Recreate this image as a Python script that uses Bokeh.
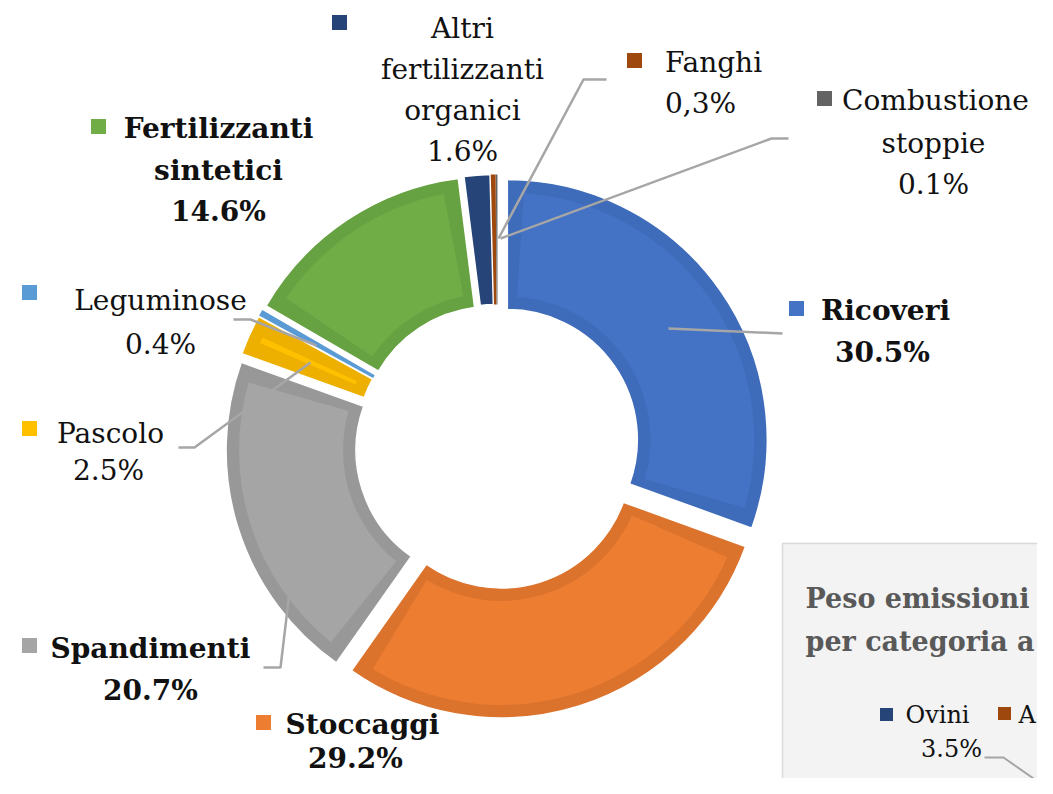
import math
from bokeh.plotting import figure
from bokeh.models import Range1d, ColumnDataSource
from bokeh.core.properties import value
from bokeh.embed import file_html
from bokeh.resources import INLINE

# ---------------- data ----------------
categories = ["Ricoveri", "Stoccaggi", "Spandimenti", "Pascolo", "Leguminose",
              "Fertilizzanti sintetici", "Altri fertilizzanti organici", "Fanghi",
              "Combustione stoppie"]
shares = [30.5, 29.2, 20.7, 2.5, 0.4, 14.6, 1.6, 0.3, 0.1]
share_labels = ["30.5%", "29.2%", "20.7%", "2.5%", "0.4%", "14.6%", "1.6%", "0,3%", "0.1%"]
label_lines = [["Ricoveri"], ["Stoccaggi"], ["Spandimenti"], ["Pascolo"], ["Leguminose"],
               ["Fertilizzanti", "sintetici"], ["Altri", "fertilizzanti", "organici"],
               ["Fanghi"], ["Combustione", "stoppie"]]
bold_labels = [True, True, True, False, False, True, False, False, False]

inset_title = ["Peso emissioni", "per categoria a"]
inset_categories = ["Ovini", "A"]
inset_share_labels = ["3.5%"]

# ---------------- style / layout ----------------
colors = ["#4472C4", "#ED7D31", "#A5A5A5", "#FFC000", "#5B9BD5", "#70AD47",
          "#264478", "#9E480E", "#636363"]
band_colors = ["#3E6BBA", "#DB732D", "#989898", "#EDB000", "#5B9BD5", "#67A242",
               "#264478", "#9E480E", "#636363"]
inset_colors = ["#264478", "#9E480E"]

CX, CY = 497, 446          # donut centre (picture px)
R_OUT, R_IN = 260, 130
EXPLODE = 12
BAND = 13
FONT = "DejaVu Serif"
FS = "28px"

# label positions (picture px): x per line, y per line, marker centre
label_pos = [
    dict(x=[885, 882], y=[310, 352], m=(796, 308)),
    dict(x=[362, 355], y=[724, 758], m=(263, 722)),
    dict(x=[150, 150], y=[648, 690], m=(29, 645)),
    dict(x=[110, 108], y=[433, 470], m=(29, 428)),
    dict(x=[160, 160], y=[300, 344], m=(29, 292)),
    dict(x=[218, 218, 218], y=[128, 170, 211], m=(98, 126)),
    dict(x=[462, 462, 462, 462], y=[28, 69, 110, 151], m=(339, 22)),
    dict(x=[713, 700], y=[62, 103], m=(634, 60)),
    dict(x=[935, 933, 933], y=[100, 143, 184], m=(824, 98)),
]
leaders = [
    [(782, 333), (668, 328)],
    None,
    [(263, 667), (280, 667), (299, 508)],
    [(178, 447), (194, 447), (310, 362)],
    [(233, 319), (250, 319), (316, 345)],
    None,
    None,
    [(606, 79), (583, 79), (498, 238)],
    [(788, 138), (771, 138), (500, 238)],
]

W, H = 1037, 778
p = figure(width=W, height=H, output_backend="svg", toolbar_location=None,
           x_range=Range1d(0, W), y_range=Range1d(-H, 0),
           min_border=0, background_fill_color="white", border_fill_color="white")
p.axis.visible = False
p.grid.visible = False
p.outline_line_color = None


def Y(v):
    return -v


# ---------------- donut ----------------
total = sum(shares)
acc = 0.0
outer = dict(x=[], y=[], s=[], e=[], c=[], lw=[])
inner = dict(x=[], y=[], s=[], e=[], c=[])
for i, v in enumerate(shares):
    a0 = acc / total * 2 * math.pi
    acc += v
    a1 = acc / total * 2 * math.pi
    mid = (a0 + a1) / 2
    ox = CX + EXPLODE * math.sin(mid)
    oy = Y(CY) + EXPLODE * math.cos(mid)
    outer["x"].append(ox)
    outer["y"].append(oy)
    outer["s"].append(math.pi / 2 - a1)
    outer["e"].append(math.pi / 2 - a0)
    outer["c"].append(band_colors[i])
    outer["lw"].append(1.5 if v >= 1 else 0)
    rm = (R_OUT + R_IN) / 2
    if (a1 - a0) * rm > 2.2 * BAND:
        d = BAND / rm
        inner["x"].append(ox)
        inner["y"].append(oy)
        inner["s"].append(math.pi / 2 - a1 + d)
        inner["e"].append(math.pi / 2 - a0 - d)
        inner["c"].append(colors[i])

p.annular_wedge(x="x", y="y", inner_radius=R_IN, outer_radius=R_OUT,
                start_angle="s", end_angle="e", fill_color="c",
                line_color="white", line_width="lw", source=ColumnDataSource(outer))
p.annular_wedge(x="x", y="y", inner_radius=R_IN + BAND, outer_radius=R_OUT - BAND,
                start_angle="s", end_angle="e", fill_color="c",
                line_color=None, source=ColumnDataSource(inner))

# ---------------- leader lines ----------------
lx, ly = [], []
for ld in leaders:
    if ld:
        lx.append([pt[0] for pt in ld])
        ly.append([Y(pt[1]) for pt in ld])
p.multi_line(xs=lx, ys=ly, line_color="#A6A6A6", line_width=2.5)

# ---------------- labels ----------------
for i, cat in enumerate(categories):
    lines = label_lines[i] + [share_labels[i]]
    pos = label_pos[i]
    p.text(x=pos["x"], y=[Y(v) for v in pos["y"]], text=lines,
           text_font=value(FONT), text_font_size=FS,
           text_font_style="bold" if bold_labels[i] else "normal",
           text_color="#111111", text_align="center", text_baseline="middle")
    mx, my = pos["m"]
    p.scatter(x=[mx], y=[Y(my)], marker="square", size=15,
              fill_color=colors[i], line_color=None)

# ---------------- clipped second chart (bottom right) ----------------
p.quad(left=[782], right=[1200], top=[Y(543)], bottom=[Y(1000)],
       fill_color="#F3F3F3", line_color="#D9D9D9", line_width=1.5)
p.text(x=[805, 805], y=[Y(598), Y(641)], text=inset_title,
       text_font=value(FONT), text_font_size="27px", text_font_style="bold",
       text_color="#595959", text_align="left", text_baseline="alphabetic")
p.scatter(x=[886, 1004], y=[Y(714), Y(713)], marker="square", size=13,
          fill_color=inset_colors, line_color=None)
p.text(x=[905, 1018], y=[Y(714), Y(714)], text=inset_categories,
       text_font=value(FONT), text_font_size="24px", text_color="#111111",
       text_align="left", text_baseline="middle")
p.text(x=[951], y=[Y(748)], text=inset_share_labels,
       text_font=value(FONT), text_font_size="24px", text_color="#111111",
       text_align="center", text_baseline="middle")
p.line(x=[984, 1003, 1053], y=[Y(757), Y(757), Y(792)], line_color="#A6A6A6", line_width=2)

open("out.html", "w").write(file_html(p, INLINE))
